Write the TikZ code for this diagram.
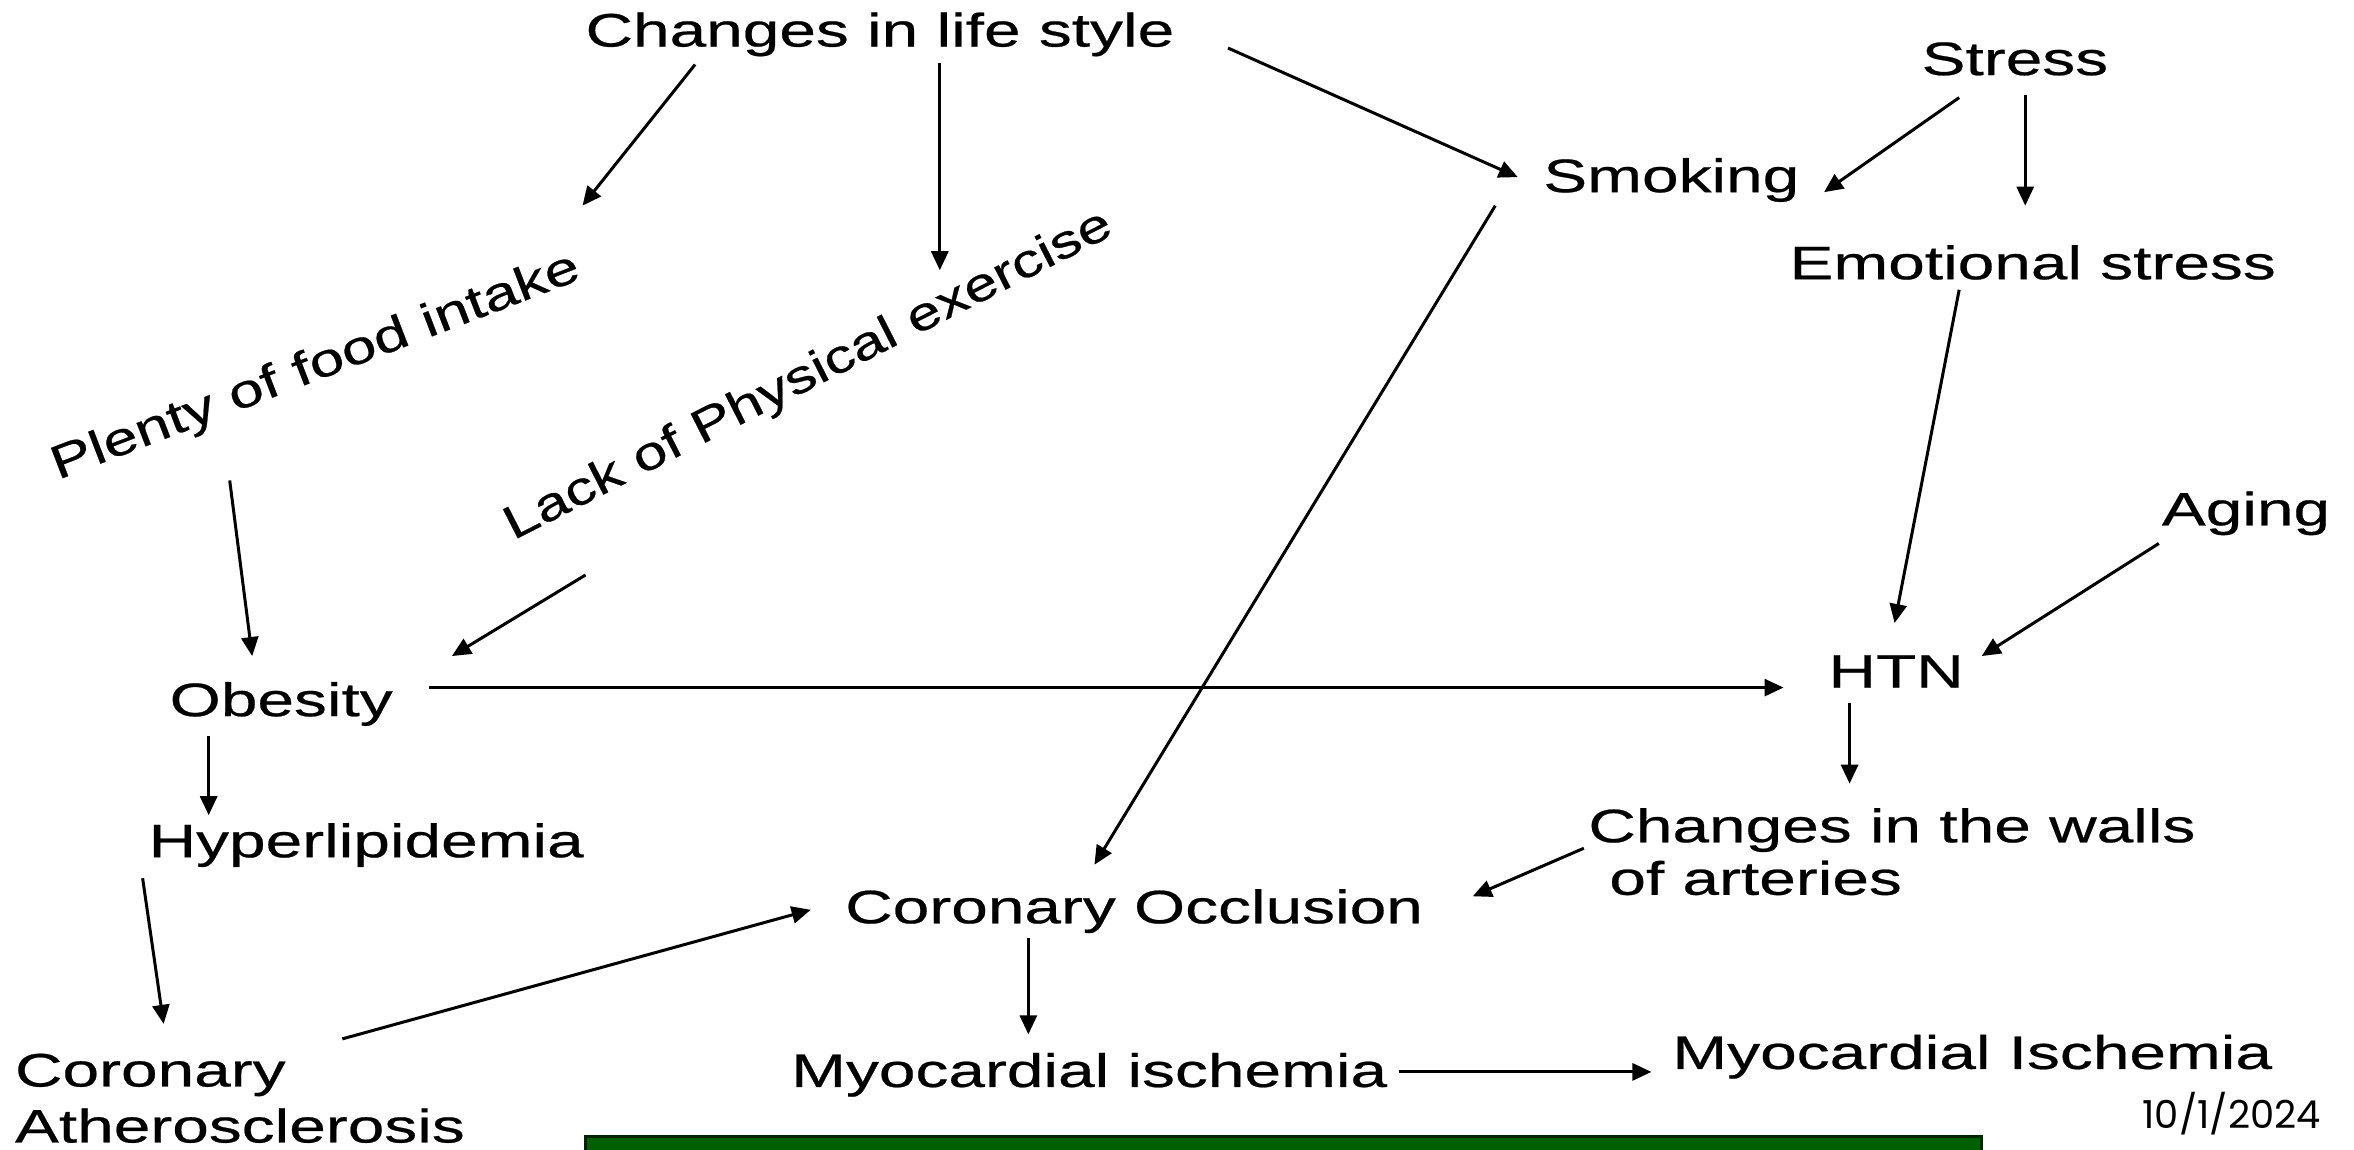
\documentclass[tikz,border=0pt]{standalone}
\usepackage{fontspec}
\setmainfont[FakeStretch=1.40,FakeBold=0.5]{Liberation Sans}
\newfontfamily\rotfontA[FakeStretch=1.32,FakeBold=0.5]{Liberation Sans}
\newfontfamily\rotfontB[FakeStretch=1.28,FakeBold=0.5]{Liberation Sans}
\newfontfamily\datefont{Poppins}
\usetikzlibrary{arrows.meta,calc}
\definecolor{boxgreen}{RGB}{0,96,0}
\definecolor{boxedge}{RGB}{0,36,0}
\begin{document}
\begin{tikzpicture}[x=1.5013pt,y=-1.5013pt,
  lbl/.style={inner sep=0pt,outer sep=0pt,anchor=base west,font=\fontsize{47pt}{56pt}\selectfont},
  arr/.style={line width=3pt,-{Triangle[length=19pt,width=17pt]}}]
\useasboundingbox (0,0) rectangle (1568,766);
\fill[white] (0,0) rectangle (1568,766);
\clip (0,0) rectangle (1568,766);

% nodes
\node[lbl] (cls) at (390,31) {Changes in life style};
\node[lbl] (str) at (1280,50) {Stress};
\node[lbl] (smk) at (1028,128) {Smoking};
\node[lbl] (emo) at (1192,186) {Emotional stress};
\node[lbl,rotate=21,font=\rotfontA\fontsize{47pt}{56pt}\selectfont] (pfi) at (38.6,319.7) {Plenty of food intake};
\node[lbl,rotate=27,font=\rotfontB\fontsize{47pt}{56pt}\selectfont] (lpe) at (342,360) {Lack of Physical exercise};
\node[lbl] (aging) at (1440,350) {Aging};
\node[lbl] (obe) at (113,477) {Obesity};
\node[lbl] (htn) at (1218,458) {HTN};
\node[lbl] (hyp) at (99,571) {Hyperlipidemia};
\node[lbl,align=left,font=\fontsize{47pt}{52.5pt}\selectfont] (cwa) at (1058,596) {Changes in the walls\\\hspace*{21pt}of arteries};
\node[lbl] (coo) at (563,615) {Coronary Occlusion};
\node[lbl,align=left] (cat) at (10,761) {Coronary\\Atherosclerosis};
\node[lbl] (myo1) at (527,724) {Myocardial ischemia};
\node[lbl] (myo2) at (1114,712) {Myocardial Ischemia};
\node[inner sep=0pt,anchor=base west,font=\datefont\fontsize{38.5pt}{42pt}\selectfont] (date) at (1427,752) {10/1/2024};

% connectors
\draw[arr] ($(cls.base west)+(73,12)$) -- ($(pfi.base west)+(349.4,-182.7)$);
\draw[arr] ($(cls.base west)+(236,11)$) -- ($(lpe.base west)+(284,-180)$);
\draw[arr] ($(cls.base west)+(428,1)$) -- ($(smk.base west)+(-17,-10)$);
\draw[arr] ($(str.base west)+(25,15)$) -- ($(smk.base west)+(187,0)$);
\draw[arr] ($(str.base west)+(69,13)$) -- ($(emo.base west)+(157,-49)$);
\draw[arr] ($(emo.base west)+(113,7)$) -- ($(htn.base west)+(44,-43)$);
\draw[arr] ($(aging.base west)+(-2,12)$) -- ($(htn.base west)+(102,-21)$);
\draw[arr] ($(smk.base west)+(-32,9)$) -- ($(coo.base west)+(166,-39)$);
\draw[arr] ($(pfi.base west)+(114.4,0.3)$) -- ($(obe.base west)+(55,-40)$);
\draw[arr] ($(lpe.base west)+(48,23)$) -- ($(obe.base west)+(188,-40)$);
\draw[arr] ($(obe.base west)+(173,-19)$) -- ($(htn.base west)+(-30,0)$);
\draw[arr] ($(obe.base west)+(26,13)$) -- ($(hyp.base west)+(40,-28)$);
\draw[arr] ($(htn.base west)+(14,10)$) -- ($(cwa.base west)+(174,-74)$);
\draw[arr] ($(cwa.base west)+(-3,-31)$) -- ($(coo.base west)+(418,-18)$);
\draw[arr] ($(hyp.base west)+(-4,14)$) -- ($(cat.base west)+(99,-79)$);
\draw[arr] ($(cat.base west)+(218,-69)$) -- ($(coo.base west)+(-23,-9)$);
\draw[arr] ($(coo.base west)+(122,10)$) -- ($(myo1.base west)+(158,-35)$);
\draw[arr] ($(myo1.base west)+(405,-10)$) -- ($(myo2.base west)+(-14,2)$);

% green bar at the bottom
\draw[line width=2.5pt,draw=boxedge,fill=boxgreen] (390,757) rectangle (1320,790);
\end{tikzpicture}
\end{document}
